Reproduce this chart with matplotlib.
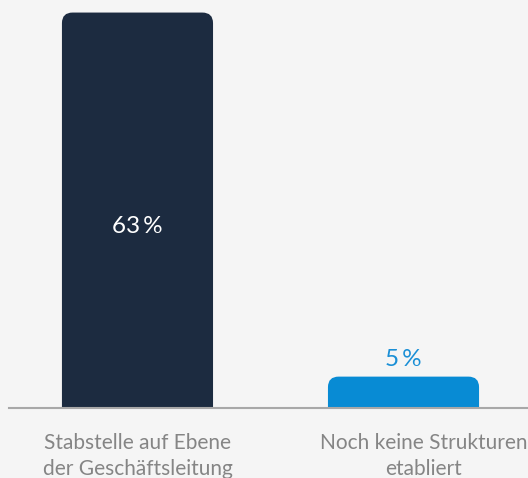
import matplotlib
matplotlib.use("Agg")
import matplotlib.pyplot as plt
from matplotlib.patches import FancyBboxPatch
import matplotlib.transforms as mtransforms

categories = ["Stabstelle auf Ebene\nder Geschäftsleitung", "Noch keine Strukturen\netabliert"]
values = [63, 5]
bar_colors = ["#1c2b40", "#088bd4"]
value_colors = ["#ffffff", "#1a8fd6"]

plt.rcParams['font.family'] = ['Lato', 'DejaVu Sans']

fig = plt.figure(figsize=(5.28, 4.78), dpi=100, facecolor="#f5f5f5")
ax = fig.add_axes([9 / 528, 70 / 478, 519 / 528, 408 / 478])
ax.set_facecolor("#f5f5f5")

x = [0, 1]
w = 0.568
bars = ax.bar(x, values, width=w, color=bar_colors)
ax.set_xlim(-0.483, 1.468)
ax.set_ylim(0, 65)

# replace plain rectangles with rounded-top ones
for rect, col in zip(bars, bar_colors):
    x0, wd, h = rect.get_x(), rect.get_width(), rect.get_height()
    rect.remove()
    box = FancyBboxPatch((x0, -3), wd, h + 3,
                         boxstyle="round,pad=0,rounding_size=0.04",
                         mutation_aspect=42, facecolor=col, edgecolor="none",
                         clip_on=True)
    ax.add_patch(box)

ax.text(x[0], values[0] * 0.46, f"{values[0]}\u2009%", color=value_colors[0],
        ha="center", va="center", fontsize=17.5)
ax.text(x[1], values[1], f"{values[1]}\u2009%", color=value_colors[1],
        ha="center", va="baseline", fontsize=17.5,
        transform=ax.transData + mtransforms.ScaledTranslation(0, 11 / 100, fig.dpi_scale_trans))

offsets = [0, 20]
for xi, lab, off in zip(x, categories, offsets):
    ax.text(xi, 0, lab, color="#858585", ha="center", va="top", fontsize=15,
            linespacing=1.35,
            transform=ax.transData + mtransforms.ScaledTranslation(off / 100, -25 / 100, fig.dpi_scale_trans))

for s in ["top", "right", "left"]:
    ax.spines[s].set_visible(False)
ax.spines["bottom"].set_color("#a8a8a8")
ax.spines["bottom"].set_linewidth(1.5)
ax.set_xticks([])
ax.set_yticks([])

fig.savefig("out.png", dpi=100, facecolor=fig.get_facecolor())
